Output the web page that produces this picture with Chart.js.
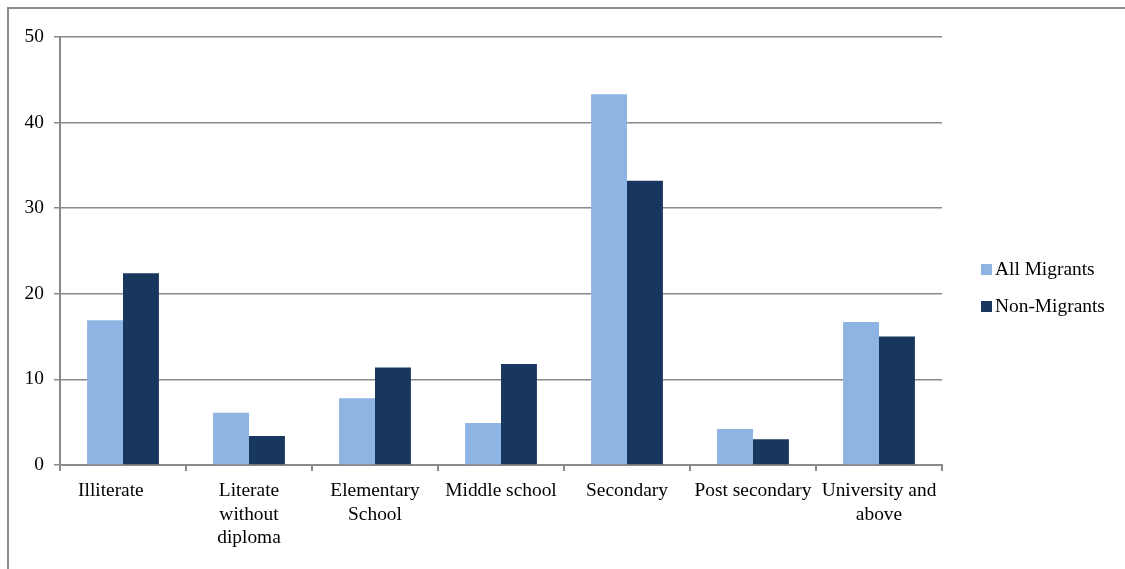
<!DOCTYPE html>
<html>
<head>
<meta charset="utf-8">
<script src="https://cdn.jsdelivr.net/npm/chart.js@4.4.1/dist/chart.umd.min.js"></script>
<style>
  html, body { margin: 0; padding: 0; background: #fff; }
  #wrap { position: relative; width: 1125px; height: 569px; }
</style>
</head>
<body>
<div id="wrap"><canvas id="eduChart" width="1125" height="569"></canvas></div>
<script>
// Education level categories (multi-line labels where the axis wraps them;
// the first one carries trailing spaces so it sits left of its slot)
const categories = [
    'Illiterate     ',
    ['Literate', 'without', 'diploma'],
    ['Elementary', 'School'],
    'Middle school',
    'Secondary',
    'Post secondary',
    ['University and', 'above']
];

// Share of each group by education level (%)
const allMigrants = [16.9, 6.1, 7.8, 4.9, 43.3, 4.2, 16.7];
const nonMigrants = [22.4, 3.4, 11.4, 11.8, 33.2, 3.0, 15.0];

const yTicks = [0, 10, 20, 30, 40, 50];

const FONT = '"Liberation Serif", "Times New Roman", serif';
const AXIS_GRAY = '#8a8a8a';

// Outer frame (top and left edges) plus the legend at the right
const framePlugin = {
    id: 'frameAndLegend',
    beforeDraw(chart) {
        const ctx = chart.ctx;
        ctx.save();
        ctx.strokeStyle = '#8c8c8c';
        ctx.lineWidth = 2;
        ctx.beginPath();
        ctx.moveTo(8, chart.height);
        ctx.lineTo(8, 8);
        ctx.lineTo(chart.width, 8);
        ctx.stroke();
        ctx.restore();
    },
    afterDraw(chart) {
        const ctx = chart.ctx;
        const area = chart.chartArea;
        ctx.save();
        ctx.font = '19.4px ' + FONT;
        ctx.textBaseline = 'middle';
        const x = area.right + 39;
        let y = 269;
        chart.data.datasets.forEach(ds => {
            ctx.fillStyle = ds.backgroundColor;
            ctx.fillRect(x, y - 5, 11, 11);
            ctx.fillStyle = '#000';
            ctx.fillText(ds.label, x + 14, y + 1);
            y += 37;
        });
        ctx.restore();
    }
};

new Chart(document.getElementById('eduChart'), {
    type: 'bar',
    data: {
        labels: categories,
        datasets: [
            {
                label: 'All Migrants',
                data: allMigrants,
                backgroundColor: '#8EB4E3',
                categoryPercentage: 0.57,
                barPercentage: 1.0
            },
            {
                label: 'Non-Migrants',
                data: nonMigrants,
                backgroundColor: '#17375E',
                categoryPercentage: 0.57,
                barPercentage: 1.0
            }
        ]
    },
    options: {
        responsive: false,
        animation: false,
        layout: { padding: { top: 37, right: 183, bottom: 0, left: 0 } },
        plugins: {
            legend: { display: false },
            tooltip: { enabled: false }
        },
        scales: {
            x: {
                grid: {
                    offset: true,
                    drawOnChartArea: false,
                    drawTicks: true,
                    tickLength: 6,
                    color: AXIS_GRAY,
                    lineWidth: 2
                },
                border: { color: AXIS_GRAY, width: 2 },
                ticks: {
                    autoSkip: false,
                    maxRotation: 0,
                    minRotation: 0,
                    padding: 8,
                    color: '#000',
                    font: { family: FONT, size: 19.4, lineHeight: 1.22 }
                },
                afterFit(scale) { scale.height = 104; }
            },
            y: {
                min: 0,
                max: 50,
                afterBuildTicks(scale) {
                    scale.ticks = yTicks.map(v => ({ value: v }));
                },
                grid: {
                    color: AXIS_GRAY,
                    lineWidth: 1.5,
                    tickLength: 6
                },
                border: { color: AXIS_GRAY, width: 2 },
                ticks: {
                    padding: 10,
                    color: '#000',
                    font: { family: FONT, size: 19.4 }
                },
                afterFit(scale) { scale.width = 60; }
            }
        }
    },
    plugins: [framePlugin]
});
</script>
</body>
</html>
